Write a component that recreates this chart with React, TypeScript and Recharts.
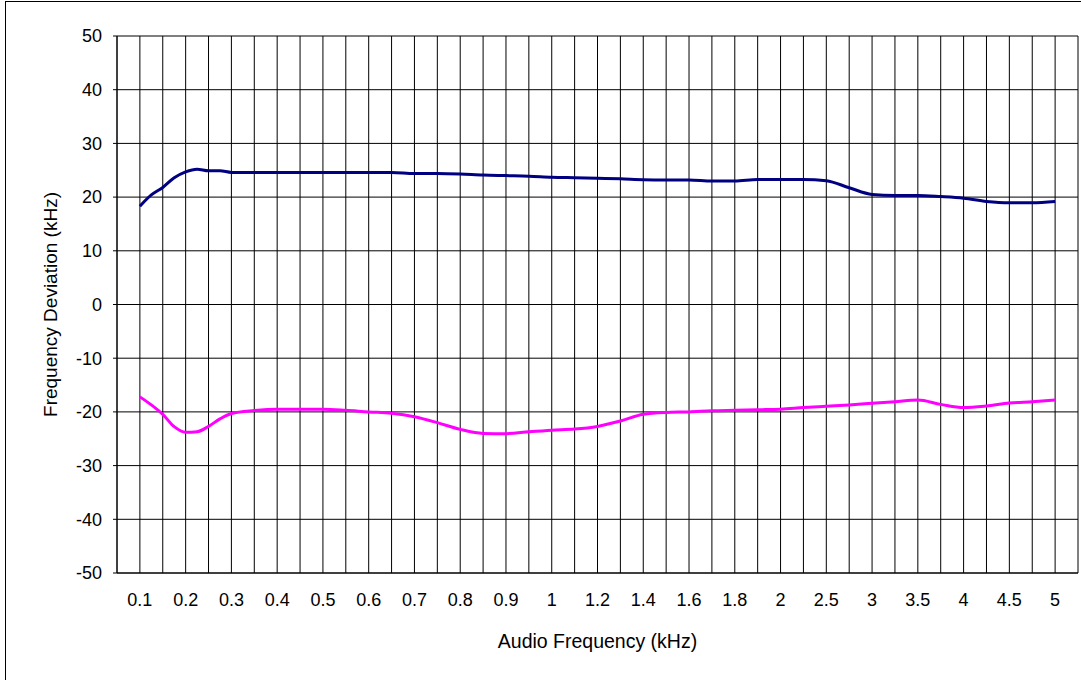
import React from 'react';
import { LineChart, Line, XAxis, YAxis, CartesianGrid, Label } from 'recharts';

// Category labels of the audio-frequency axis (kHz)
const freqLabels = ['0.1', '0.2', '0.3', '0.4', '0.5', '0.6', '0.7', '0.8', '0.9', '1', '1.2', '1.4', '1.6', '1.8', '2', '2.5', '3', '3.5', '4', '4.5', '5'];

// Sample positions in half-category steps (0 = 0.1 kHz, 2 = 0.2 kHz, ... 40 = 5 kHz)
const samplePos = [0, 0.5, 1, 1.5, 2, 2.5, 3, 3.5, 4, 5, 6, 7, 8, 9, 10, 11, 12, 13, 14, 15, 16, 17, 18, 19, 20, 21, 22, 23, 24, 25, 26, 27, 28, 29, 30, 31, 32, 33, 34, 35, 36, 37, 38, 39, 40];

// Positive deviation (kHz)
const upperDev = [18.3, 20.4, 21.8, 23.6, 24.7, 25.2, 24.9, 24.9, 24.6, 24.6, 24.6, 24.6, 24.6, 24.6, 24.6, 24.6, 24.4, 24.4, 24.3, 24.1, 24.0, 23.9, 23.7, 23.6, 23.5, 23.4, 23.25, 23.2, 23.2, 23.0, 23.0, 23.3, 23.3, 23.3, 23.05, 21.75, 20.5, 20.3, 20.3, 20.1, 19.8, 19.2, 18.95, 18.95, 19.2];

// Negative deviation (kHz)
const lowerDev = [-17.2, -18.7, -20.45, -22.75, -23.8, -23.7, -22.7, -21.3, -20.3, -19.75, -19.5, -19.5, -19.5, -19.7, -20.0, -20.25, -20.9, -22.0, -23.25, -24.0, -24.05, -23.7, -23.4, -23.2, -22.7, -21.7, -20.45, -20.1, -20.0, -19.8, -19.7, -19.6, -19.5, -19.2, -18.95, -18.7, -18.4, -18.1, -17.8, -18.6, -19.2, -18.9, -18.35, -18.1, -17.8];

const yTicks = [-50, -40, -30, -20, -10, 0, 10, 20, 30, 40, 50];

const data = samplePos.map((k, i) => ({ k, upper: upperDev[i], lower: lowerDev[i] }));
const gridTicks = Array.from({ length: freqLabels.length * 2 + 1 }, (_, i) => i - 1);

const FONT = 'Arial, "Liberation Sans", sans-serif';

export default function App() {
  return (
    <div style={{ position: 'fixed', left: 0, top: 0, width: 1081, height: 680, overflow: 'hidden', background: '#fff' }}>
      <div style={{ position: 'absolute', left: 5, top: 1, width: 1200, height: 800, border: '1px solid #000', boxSizing: 'border-box' }} />
      <div style={{ position: 'absolute', left: 0, top: 0 }}>
        <LineChart width={1081} height={680} data={data} margin={{ top: 36, right: 3, bottom: 67, left: 57 }}>
          <CartesianGrid stroke="#000" strokeWidth={1} />
          <XAxis
            dataKey="k"
            type="number"
            domain={[-1, freqLabels.length * 2 - 1]}
            ticks={gridTicks}
            interval={0}
            tickLine={false}
            axisLine={{ stroke: '#000' }}
            height={40}
            tickMargin={14}
            tick={{ fill: '#000', fontSize: 18, fontFamily: FONT }}
            tickFormatter={(v: number) => (v >= 0 && v % 2 === 0 ? freqLabels[v / 2] : '')}
          >
            <Label value="Audio Frequency (kHz)" position="bottom" offset={21} style={{ fill: '#000', fontSize: 19.5, fontFamily: FONT }} />
          </XAxis>
          <YAxis
            type="number"
            domain={[-50, 50]}
            ticks={yTicks}
            interval={0}
            width={60}
            tickSize={4}
            tickMargin={11}
            axisLine={{ stroke: '#000' }}
            tickLine={{ stroke: '#000' }}
            tick={{ fill: '#000', fontSize: 18, fontFamily: FONT }}
          >
            <Label value="Frequency Deviation (kHz)" angle={-90} position="center" dx={-37} style={{ fill: '#000', fontSize: 19, fontFamily: FONT, textAnchor: 'middle' }} />
          </YAxis>
          <Line type="monotone" dataKey="upper" stroke="#000080" strokeWidth={3} dot={false} isAnimationActive={false} />
          <Line type="monotone" dataKey="lower" stroke="#FF00FF" strokeWidth={3} dot={false} isAnimationActive={false} />
        </LineChart>
      </div>
    </div>
  );
}
